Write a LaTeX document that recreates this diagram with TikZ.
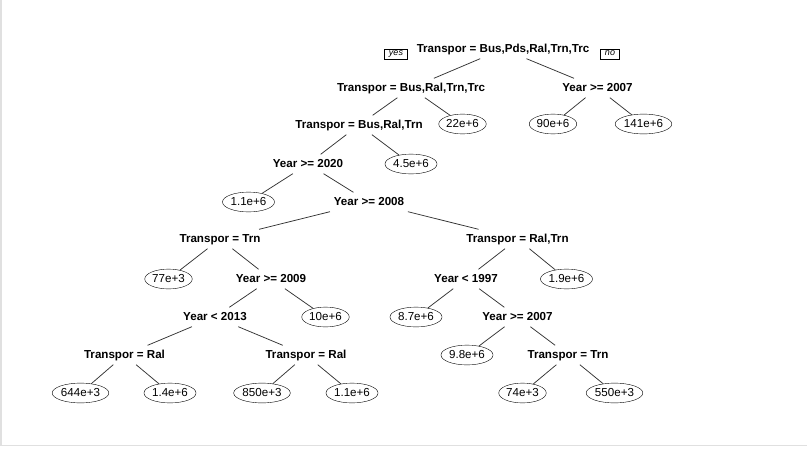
\documentclass[tikz,border=0pt]{standalone}
\usepackage{fontspec}
\setmainfont{Liberation Sans}
\usepackage{xcolor}
\usepackage{tikz}
\usetikzlibrary{positioning,
                shapes}
\tikzstyle{split} = [font=\bfseries\fontsize{11.6}{13}\selectfont,text height=8.5pt,text depth=2.5pt,inner xsep=4pt,inner ysep=4pt]
\tikzstyle{leaf} = [ellipse,draw=black,thin,font=\fontsize{11.6}{13}\selectfont,text height=8.5pt,text depth=2.5pt,inner xsep=0.5pt,inner ysep=1.5pt]
\tikzstyle{tag} = [draw=black,thin,font=\itshape\fontsize{9}{10}\selectfont,text height=5.5pt,text depth=2pt,inner xsep=4.5pt,inner ysep=1pt]
\tikzstyle{branch} = [draw=black!80,line width=0.75pt]

\begin{document}
\begin{tikzpicture}[x=1pt,y=-1pt]
        \useasboundingbox (0,0) rectangle (807,448);
        \draw[black!12,line width=1.5pt] (0.8,0) -- (0.8,445.5) -- (807,445.5);

        % splits
        \node[split] (sp1) at (503,49) {Transpor = Bus,Pds,Ral,Trn,Trc};
        \node[tag] (yes) at (396,54) {yes};
        \node[tag] (no) at (610,54) {no};
        \node[split] (sp2) at (411,88) {Transpor = Bus,Ral,Trn,Trc};
        \node[split] (sp3) at (597.5,88) {Year >= 2007};
        \node[split] (sp4) at (359,125) {Transpor = Bus,Ral,Trn};
        \node[split] (sp5) at (308,164) {Year >= 2020};
        \node[split] (sp6) at (369,202) {Year >= 2008};
        \node[split] (sp7) at (220,239) {Transpor = Trn};
        \node[split] (sp8) at (517.5,239) {Transpor = Ral,Trn};
        \node[split] (sp9) at (271,279) {Year >= 2009};
        \node[split] (sp10) at (466,279) {Year < 1997};
        \node[split] (sp11) at (215,317) {Year < 2013};
        \node[split] (sp12) at (517.5,317) {Year >= 2007};
        \node[split] (sp13) at (124.5,355) {Transpor = Ral};
        \node[split] (sp14) at (306,355) {Transpor = Ral};
        \node[split] (sp15) at (568,355) {Transpor = Trn};

        % leaves
        \node[leaf] (lf1) at (462.5,124) {22e+6};
        \node[leaf] (lf2) at (553,124) {90e+6};
        \node[leaf] (lf3) at (643.5,124) {141e+6};
        \node[leaf] (lf4) at (411,164) {4.5e+6};
        \node[leaf] (lf5) at (248.5,202) {1.1e+6};
        \node[leaf] (lf6) at (168.5,279) {77e+3};
        \node[leaf] (lf7) at (566.5,279) {1.9e+6};
        \node[leaf] (lf8) at (325.5,317) {10e+6};
        \node[leaf] (lf9) at (416,317) {8.7e+6};
        \node[leaf] (lf10) at (467,355) {9.8e+6};
        \node[leaf] (lf11) at (80.5,393) {644e+3};
        \node[leaf] (lf12) at (170,393) {1.4e+6};
        \node[leaf] (lf13) at (262,393) {850e+3};
        \node[leaf] (lf14) at (352,393) {1.1e+6};
        \node[leaf] (lf15) at (522.5,393) {74e+3};
        \node[leaf] (lf16) at (614.5,393) {550e+3};

        % branches
        \draw[branch] (sp1) -- (sp2);
        \draw[branch] (sp1) -- (sp3);
        \draw[branch] (sp2) -- (sp4);
        \draw[branch] (sp2) -- (lf1);
        \draw[branch] (sp3) -- (lf2);
        \draw[branch] (sp3) -- (lf3);
        \draw[branch] (sp4) -- (sp5);
        \draw[branch] (sp4) -- (lf4);
        \draw[branch] (sp5) -- (lf5);
        \draw[branch] (sp5) -- (sp6);
        \draw[branch] (sp6) -- (sp7);
        \draw[branch] (sp6) -- (sp8);
        \draw[branch] (sp7) -- (lf6);
        \draw[branch] (sp7) -- (sp9);
        \draw[branch] (sp9) -- (sp11);
        \draw[branch] (sp9) -- (lf8);
        \draw[branch] (sp11) -- (sp13);
        \draw[branch] (sp11) -- (sp14);
        \draw[branch] (sp13) -- (lf11);
        \draw[branch] (sp13) -- (lf12);
        \draw[branch] (sp14) -- (lf13);
        \draw[branch] (sp14) -- (lf14);
        \draw[branch] (sp8) -- (sp10);
        \draw[branch] (sp8) -- (lf7);
        \draw[branch] (sp10) -- (lf9);
        \draw[branch] (sp10) -- (sp12);
        \draw[branch] (sp12) -- (lf10);
        \draw[branch] (sp12) -- (sp15);
        \draw[branch] (sp15) -- (lf15);
        \draw[branch] (sp15) -- (lf16);
    \end{tikzpicture}
\end{document}
